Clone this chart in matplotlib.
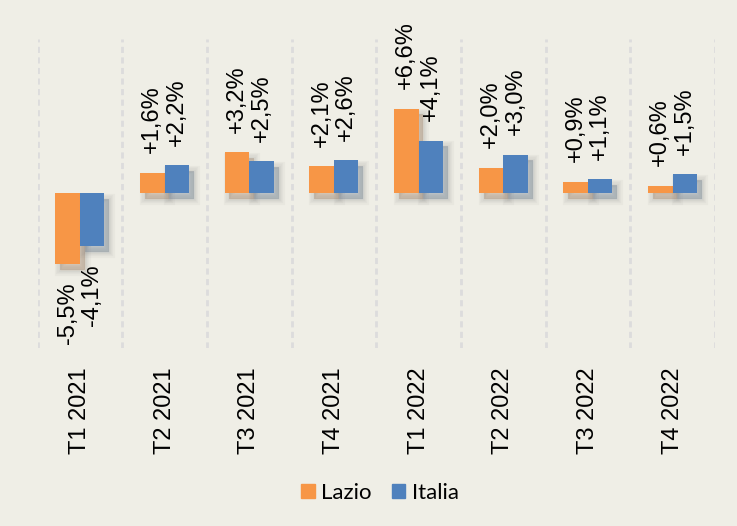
import matplotlib.pyplot as plt
import matplotlib.patches as pat
from matplotlib import patheffects as pe
import numpy as np

quarters = ["T1 2021", "T2 2021", "T3 2021", "T4 2021",
            "T1 2022", "T2 2022", "T3 2022", "T4 2022"]
lazio = [-5.5, 1.6, 3.2, 2.1, 6.6, 2.0, 0.9, 0.6]
italia = [-4.1, 2.2, 2.5, 2.6, 4.1, 3.0, 1.1, 1.5]
series_names = ["Lazio", "Italia"]
colors = ["#F79646", "#4F81BD"]

bg = "#EFEEE6"
label_font = "Liberation Sans"

fig = plt.figure(figsize=(7.37, 5.26), dpi=100, facecolor=bg)
ax = fig.add_axes([0.0509, 0.3384, 0.9191, 0.5875])
ax.set_facecolor(bg)

x = np.arange(len(quarters))
w = 0.29

# soft drop shadow under the bars
shadow = [pe.Stroke(offset=(3.5, -4), linewidth=lw, foreground="#707070", alpha=0.05)
          for lw in (8, 6, 4, 2)]
shadow += [pe.SimplePatchShadow(offset=(3.5, -4), shadow_rgbFace="#707070", alpha=0.22),
           pe.Normal()]

for k, (vals, col) in enumerate(zip([lazio, italia], colors)):
    xs = x + (k - 0.5) * w
    bars = ax.bar(xs, vals, width=w, color=col, zorder=3 + k)
    for b in bars:
        b.set_path_effects(shadow)
    for xi, v in zip(xs, vals):
        txt = ("+" if v > 0 else "-") + f"{abs(v):.1f}".replace(".", ",") + "%"
        ax.annotate(txt, (xi, v), xytext=(0, 14 if v > 0 else -13),
                    textcoords="offset points", rotation=90, ha="center",
                    va="bottom" if v > 0 else "top", fontsize=17,
                    fontfamily=label_font, zorder=6)

# dashed separators between quarters
for g in np.arange(-0.5, len(quarters), 1.0):
    ax.axvline(g, color="#dcdcdc", lw=2, ls=(0, (2.2, 1.6)), zorder=1)

ax.set_xlim(-0.5, len(quarters) - 0.5)
ax.set_ylim(-12, 12)
ax.set_xticks(x)
ax.set_xticklabels(quarters, rotation=90, fontsize=17, fontfamily=label_font, va="top")
ax.tick_params(axis="x", length=0, pad=14)
ax.set_yticks([])
for s in ax.spines.values():
    s.set_visible(False)

handles = [pat.Patch(color=c) for c in colors]
leg = fig.legend(handles, series_names, loc="center",
                 bbox_to_anchor=(380 / 737, 1 - 493 / 526), ncol=2,
                 frameon=False, handlelength=0.6, handleheight=0.6,
                 handletextpad=0.3, columnspacing=0.9,
                 prop={"family": "Lato", "size": 16})

fig.savefig("out.png", dpi=100, facecolor=bg)
